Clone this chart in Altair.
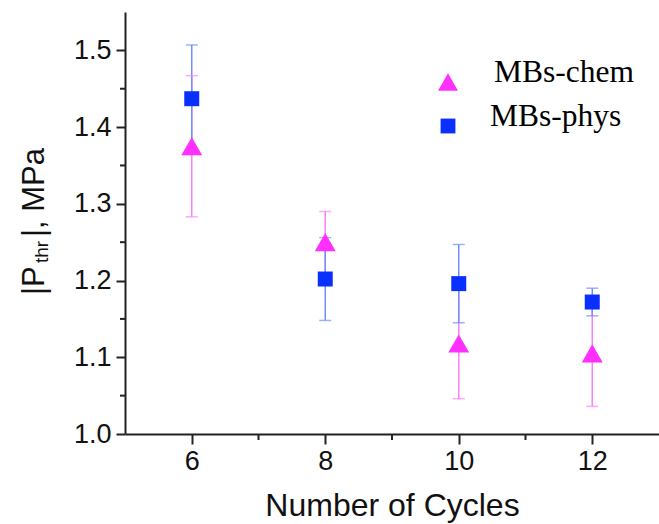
import altair as alt
import pandas as pd

cycles = [6, 8, 10, 12]
series = ["MBs-chem", "MBs-phys"]
chem_mean = [1.375, 1.250, 1.118, 1.105]
chem_err = [0.092, 0.040, 0.072, 0.069]
phys_mean = [1.437, 1.202, 1.196, 1.172]
phys_err = [0.070, 0.054, 0.051, 0.018]

x_ticks = [6, 8, 10, 12]
x_minor = [7, 9, 11]
y_ticks = [1.0, 1.1, 1.2, 1.3, 1.4, 1.5]
y_minor = [1.05, 1.15, 1.25, 1.35, 1.45]

marker_colors = ["#FF30FF", "#0A30FF"]
bar_colors = ["#FF80FF", "#7090FF"]
shapes = ["triangle-up", "square"]
sizes = [440, 225]
legend_sizes = [400, 220]

rows = []
for i, c in enumerate(cycles):
    rows.append(dict(cycles=c, series=series[0], mean=chem_mean[i],
                     lo=chem_mean[i] - chem_err[i], hi=chem_mean[i] + chem_err[i],
                     ecol=bar_colors[0]))
    rows.append(dict(cycles=c, series=series[1], mean=phys_mean[i],
                     lo=phys_mean[i] - phys_err[i], hi=phys_mean[i] + phys_err[i],
                     ecol=bar_colors[1]))
df = pd.DataFrame(rows)

xscale = alt.Scale(domain=[5, 13], nice=False, zero=False)
yscale = alt.Scale(domain=[1.0, 1.55], nice=False, zero=False)

xax = alt.Axis(values=x_ticks, format="d", title="Number of Cycles", grid=False,
               tickSize=10, tickWidth=2, tickColor="#222", domainColor="#222",
               domainWidth=2, labelFont="Liberation Sans", labelFontSize=27,
               labelColor="#111", labelPadding=4, titleFont="Liberation Sans",
               titleFontSize=32, titleFontWeight="normal", titleColor="#111",
               titlePadding=16)
yax = alt.Axis(values=y_ticks, format=".1f", title=None, grid=False,
               tickSize=9, tickWidth=2, tickColor="#222", domainColor="#222",
               domainWidth=2, labelFont="Liberation Sans", labelFontSize=27,
               labelColor="#111", labelPadding=5)

base = alt.Chart(df)

bars = base.mark_rule(strokeWidth=1.5).encode(
    x=alt.X("cycles:Q", scale=xscale, axis=xax),
    y=alt.Y("lo:Q", scale=yscale, axis=yax),
    y2="hi:Q",
    color=alt.Color("ecol:N", scale=None),
)
caps_hi = base.mark_tick(orient="horizontal", size=12, thickness=1.5).encode(
    x=alt.X("cycles:Q", scale=xscale),
    y=alt.Y("hi:Q", scale=yscale),
    color=alt.Color("ecol:N", scale=None),
)
caps_lo = base.mark_tick(orient="horizontal", size=12, thickness=1.5).encode(
    x=alt.X("cycles:Q", scale=xscale),
    y=alt.Y("lo:Q", scale=yscale),
    color=alt.Color("ecol:N", scale=None),
)

points = base.mark_point(filled=True, opacity=1, strokeWidth=0).encode(
    x=alt.X("cycles:Q", scale=xscale),
    y=alt.Y("mean:Q", scale=yscale),
    color=alt.Color("series:N", scale=alt.Scale(domain=series, range=marker_colors), legend=None),
    shape=alt.Shape("series:N", scale=alt.Scale(domain=series, range=shapes), legend=None),
    size=alt.Size("series:N", scale=alt.Scale(domain=series, range=sizes), legend=None),
)

xminor_df = pd.DataFrame({"xv": x_minor})
yminor_df = pd.DataFrame({"yv": y_minor})
xminor = alt.Chart(xminor_df).mark_rule(color="#222", strokeWidth=2).encode(
    x=alt.X("xv:Q", scale=xscale), y=alt.value(422), y2=alt.value(428))
yminor = alt.Chart(yminor_df).mark_rule(color="#222", strokeWidth=2).encode(
    y=alt.Y("yv:Q", scale=yscale), x=alt.value(-5), x2=alt.value(0))

# legend (drawn manually, top right)
leg_df = pd.DataFrame({"lab": series, "col": marker_colors, "shp": shapes,
                       "sz": legend_sizes,
                       "sx": [323, 323], "sy": [70, 114],
                       "tx": [369, 365], "ty": [70, 114]})
leg_sym = alt.Chart(leg_df).mark_point(filled=True, opacity=1, strokeWidth=0).encode(
    x=alt.X("sx:Q", scale=None), y=alt.Y("sy:Q", scale=None),
    color=alt.Color("col:N", scale=None), shape=alt.Shape("shp:N", scale=None),
    size=alt.Size("sz:Q", scale=None))
leg_txt = alt.Chart(leg_df).mark_text(align="left", baseline="alphabetic",
                                      font="Liberation Serif", fontSize=31.5,
                                      color="black").encode(
    x=alt.X("tx:Q", scale=None), y=alt.Y("ty:Q", scale=None), text="lab:N")

# y-axis title with subscript
ttl_df = pd.DataFrame({"t": ["|P", "thr", "|, MPa"],
                       "xx": [-81, -77, -81], "yy": [283, 251, 225],
                       "fs": [31, 19, 31]})
ytitle = alt.Chart(ttl_df).mark_text(angle=270, align="left", baseline="alphabetic",
                                     font="Liberation Sans", color="#111").encode(
    text="t:N", x=alt.X("xx:Q", scale=None), y=alt.Y("yy:Q", scale=None),
    size=alt.Size("fs:Q", scale=None))

chart = alt.layer(bars, caps_hi, caps_lo, xminor, yminor, points,
                  leg_sym, leg_txt, ytitle).properties(
    width=534, height=422,
    autosize=alt.AutoSizeParams(type="none"),
    padding={"left": 125, "top": 12, "right": 0, "bottom": 90},
    background="white",
).configure_view(stroke=None)

chart.save("out.html", embed_options={"renderer": "svg", "actions": False})
